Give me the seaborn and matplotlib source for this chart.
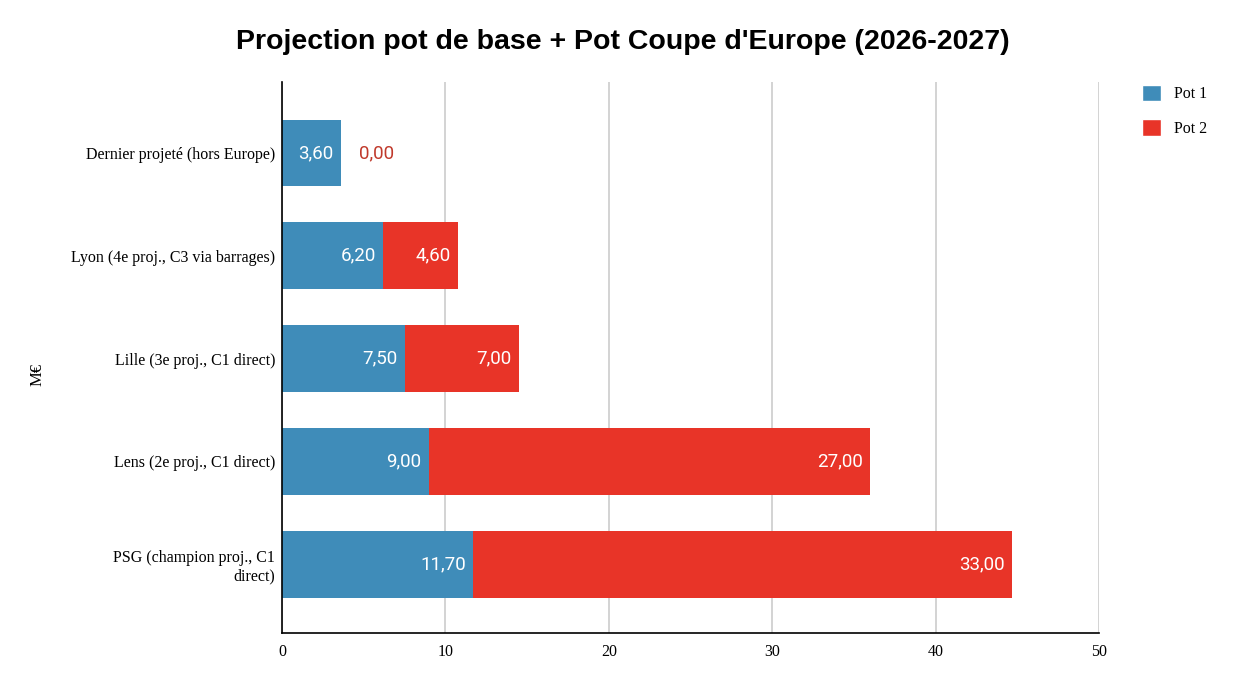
import pandas as pd
import matplotlib.pyplot as plt
import seaborn as sns
from matplotlib.patches import Patch

# Data
categories = [
    "Dernier projeté (hors Europe)",
    "Lyon (4e proj., C3 via barrages)",
    "Lille (3e proj., C1 direct)",
    "Lens (2e proj., C1 direct)",
    "PSG (champion proj., C1\ndirect)",
]
pot1 = [3.60, 6.20, 7.50, 9.00, 11.70]
pot2 = [0.00, 4.60, 7.00, 27.00, 33.00]
series_names = ["Pot 1", "Pot 2"]
x_ticks = [0, 10, 20, 30, 40, 50]

BLUE = "#3f8cb9"
RED = "#e83428"

df = pd.DataFrame({"cat": categories, "pot1": pot1, "pot2": pot2})
df["total"] = df["pot1"] + df["pot2"]

sns.set_style("white")
plt.rcParams["font.family"] = ["Liberation Serif", "DejaVu Serif"]
plt.rcParams["text.color"] = "black"
plt.rcParams["xtick.color"] = "black"
plt.rcParams["ytick.color"] = "black"

fig = plt.figure(figsize=(12.46, 6.84), dpi=100)
ax = fig.add_axes([0.2263, 0.0746, 0.882 - 0.2263, 0.880 - 0.0746])

# stacked look: total in red, pot 1 on top in blue
sns.barplot(data=df, y="cat", x="total", color=RED, width=0.65,
            saturation=1, ax=ax, orient="h", zorder=3, linewidth=0)
sns.barplot(data=df, y="cat", x="pot1", color=BLUE, width=0.65,
            saturation=1, ax=ax, orient="h", zorder=4, linewidth=0)

lab_font = dict(family=["Roboto", "DejaVu Sans"], fontsize=13.5)
for i, row in df.iterrows():
    ax.text(row["pot1"] - 0.45, i, f"{row['pot1']:.2f}".replace(".", ","),
            ha="right", va="center", color="white", zorder=5, **lab_font)
    if row["pot2"] > 0:
        ax.text(row["total"] - 0.45, i, f"{row['pot2']:.2f}".replace(".", ","),
                ha="right", va="center", color="white", zorder=5, **lab_font)
    else:
        ax.text(row["pot1"] + 1.1, i, f"{row['pot2']:.2f}".replace(".", ","),
                ha="left", va="center", color="#c0392b", zorder=5, **lab_font)

ax.set_xlim(0, 50)
ax.set_ylim(4.67, -0.69)
ax.set_xticks(x_ticks)
ax.set_xticklabels([str(t) for t in x_ticks], fontsize=11.5)
ax.tick_params(axis="y", labelsize=11.5, length=0, pad=5)
ax.tick_params(axis="x", length=0, pad=8)
ax.grid(axis="x", color="#cccccc", linewidth=1.2, zorder=0)
ax.set_axisbelow(True)

for s in ["top", "right"]:
    ax.spines[s].set_visible(False)
for s in ["left", "bottom"]:
    ax.spines[s].set_color("black")
    ax.spines[s].set_linewidth(1.2)
    ax.spines[s].set_zorder(6)

ax.set_xlabel("")
ax.set_ylabel("")
fig.text(0.030, 0.452, "M€", rotation=90, ha="center", va="center", fontsize=12)

fig.suptitle("Projection pot de base + Pot Coupe d'Europe (2026-2027)",
             x=0.5, y=0.958, fontsize=20.5, fontweight="bold", color="black",
             family=["Liberation Sans", "DejaVu Sans"])

handles = [Patch(facecolor=BLUE, label=series_names[0]),
           Patch(facecolor=RED, label=series_names[1])]
fig.legend(handles=handles, loc="upper left", bbox_to_anchor=(0.905, 0.897),
           frameon=False, fontsize=11.5, handlelength=1.2, handleheight=1.2,
           labelspacing=1.05, handletextpad=0.8)

fig.savefig("out.png", dpi=100)
